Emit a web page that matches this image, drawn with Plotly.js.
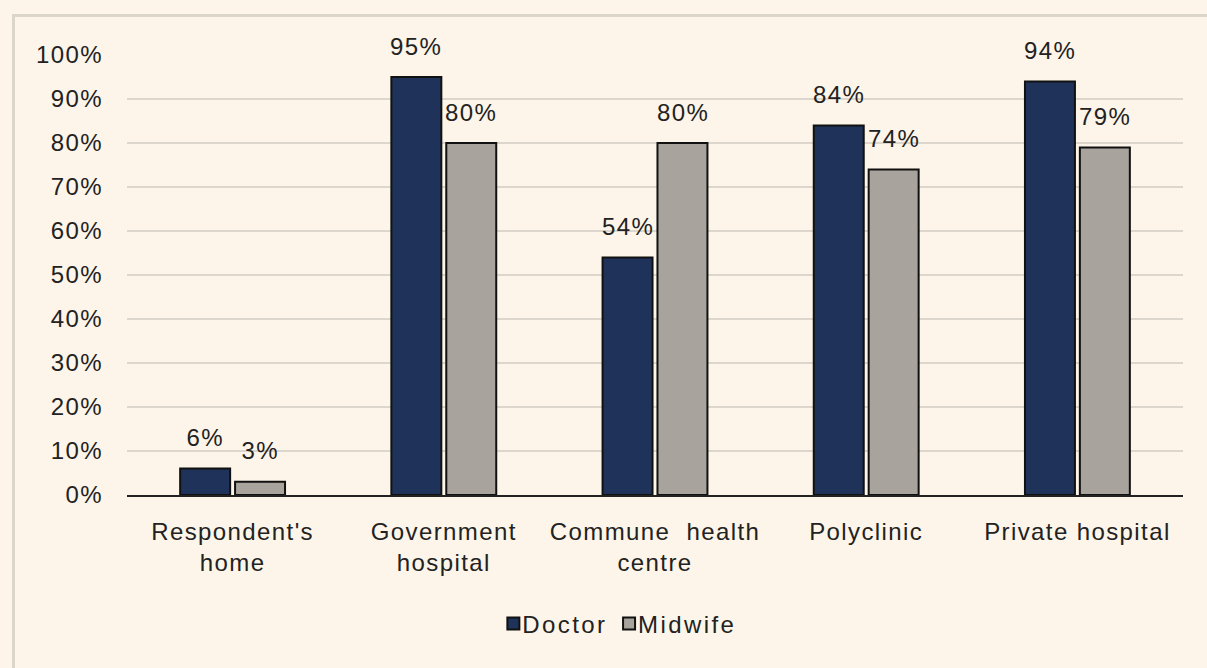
<!DOCTYPE html>
<html>
<head>
<meta charset="utf-8">
<script src="https://cdn.plot.ly/plotly-3.0.1.min.js"></script>
<style>
html,body{margin:0;padding:0;background:#fdf5e9;}
#wrap{position:relative;width:1207px;height:668px;}
#chart{position:absolute;left:0;top:0;width:1207px;height:668px;}
#chart svg text{letter-spacing:1.4px;}
#chart svg .legendtext{transform:translateX(-11px);letter-spacing:2.4px;}
#frame{position:absolute;left:12px;top:14px;width:1220px;height:700px;border:3px solid #dcd5c9;pointer-events:none;box-sizing:border-box;}
</style>
</head>
<body>
<div id="wrap">
<div id="chart"></div>
<div id="frame"></div>
</div>
<script>
const categories = ["Respondent's<br>home", "Government<br>hospital", "Commune  health<br>centre", "Polyclinic", "Private hospital"];
const doctor = [6, 95, 54, 84, 94];
const midwife = [3, 80, 80, 74, 79];
const yTicks = [0,10,20,30,40,50,60,70,80,90,100];
const yTickLabels = yTicks.map(v => v + '%');

const FONT = 'Liberation Sans, Arial, sans-serif';
const traces = [
  {type: 'bar', name: 'Doctor', x: categories, y: doctor, hoverinfo: 'skip',
   marker: {color: '#1f3259', line: {color: '#111', width: 2}}},
  {type: 'bar', name: 'Midwife', x: categories, y: midwife, hoverinfo: 'skip',
   marker: {color: '#a8a39c', line: {color: '#111', width: 2}}}
];
const annotations = [];
[[doctor, -27.5], [midwife, 27.5]].forEach(([vals, dx]) => {
  vals.forEach((v, i) => {
    annotations.push({x: categories[i], y: v, xref: 'x', yref: 'y', text: v + '%',
      showarrow: false, xshift: dx, yshift: 31, yanchor: 'middle', xanchor: 'center',
      font: {family: FONT, size: 24, color: '#222'}});
  });
});
const layout = {
  width: 1207, height: 668,
  paper_bgcolor: '#fdf5e9', plot_bgcolor: '#fdf5e9',
  margin: {l: 127, r: 24, t: 55, b: 173},
  barmode: 'group', bargap: 0.48, bargroupgap: 0.09,
  font: {family: FONT, size: 24, color: '#222'},
  annotations: annotations,
  showlegend: true,
  legend: {orientation: 'h', x: 0.462, xanchor: 'center', y: -0.293, yanchor: 'middle',
           font: {size: 24, color: '#222'}, bgcolor: 'rgba(0,0,0,0)', traceorder: 'normal', itemwidth: 30},
  xaxis: {showline: true, linecolor: '#222', linewidth: 2, ticks: '', tickfont: {size: 24, color: '#222'},
          showgrid: false, zeroline: false, fixedrange: true, ticklabelstandoff: 14},
  yaxis: {range: [0, 100], tickvals: yTicks, ticktext: yTickLabels, showgrid: true,
          gridcolor: '#dcd6cc', gridwidth: 2, zeroline: false, showline: false, ticks: '',
          ticklen: 0, tickfont: {size: 24, color: '#222'}, fixedrange: true, ticklabelstandoff: 23}
};
Plotly.newPlot('chart', traces, layout, {displayModeBar: false, staticPlot: true});
</script>
</body>
</html>
